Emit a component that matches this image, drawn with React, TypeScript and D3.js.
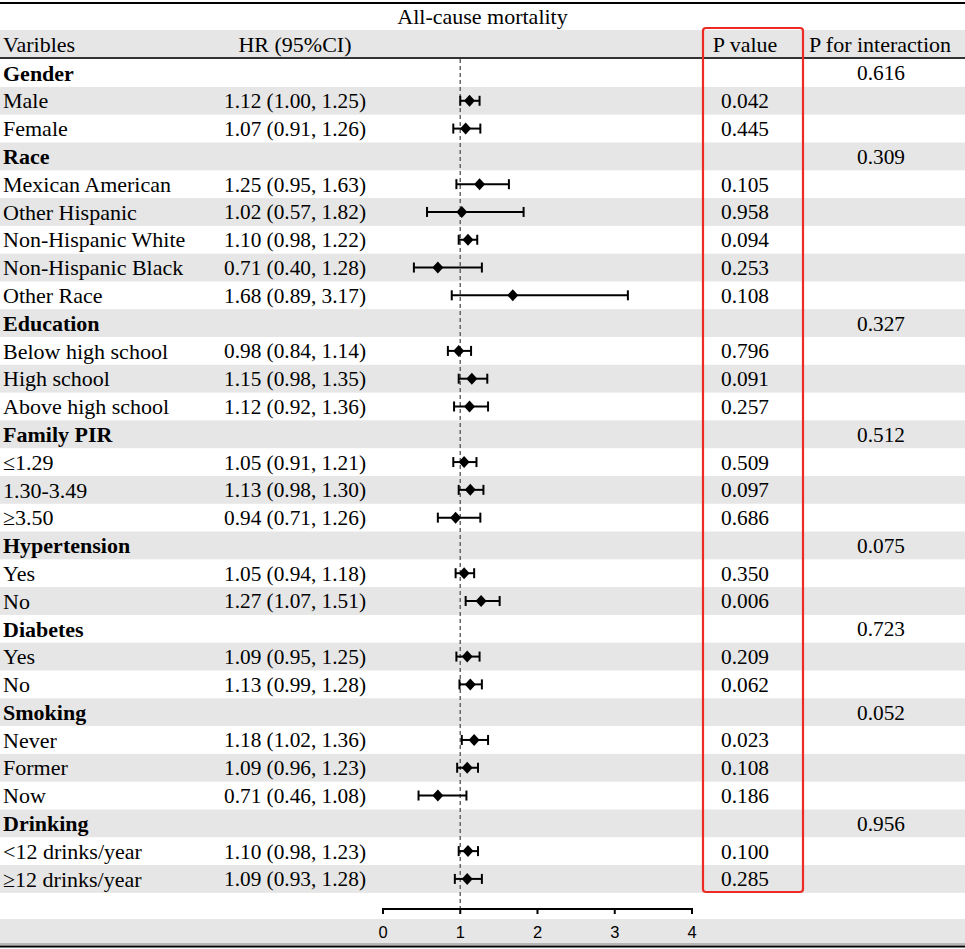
import React from "react";
import * as d3 from "d3";

const labels = [
  "Gender", "Male", "Female",
  "Race", "Mexican American", "Other Hispanic", "Non-Hispanic White", "Non-Hispanic Black", "Other Race",
  "Education", "Below high school", "High school", "Above high school",
  "Family PIR", "≤1.29", "1.30-3.49", "≥3.50",
  "Hypertension", "Yes", "No",
  "Diabetes", "Yes", "No",
  "Smoking", "Never", "Former", "Now",
  "Drinking", "<12 drinks/year", "≥12 drinks/year",
];
const isGroup = [
  true, false, false,
  true, false, false, false, false, false,
  true, false, false, false,
  true, false, false, false,
  true, false, false,
  true, false, false,
  true, false, false, false,
  true, false, false,
];
const hr: (number | null)[] = [
  null, 1.12, 1.07,
  null, 1.25, 1.02, 1.10, 0.71, 1.68,
  null, 0.98, 1.15, 1.12,
  null, 1.05, 1.13, 0.94,
  null, 1.05, 1.27,
  null, 1.09, 1.13,
  null, 1.18, 1.09, 0.71,
  null, 1.10, 1.09,
];
const lower: (number | null)[] = [
  null, 1.0, 0.91,
  null, 0.95, 0.57, 0.98, 0.40, 0.89,
  null, 0.84, 0.98, 0.92,
  null, 0.91, 0.98, 0.71,
  null, 0.94, 1.07,
  null, 0.95, 0.99,
  null, 1.02, 0.96, 0.46,
  null, 0.98, 0.93,
];
const upper: (number | null)[] = [
  null, 1.25, 1.26,
  null, 1.63, 1.82, 1.22, 1.28, 3.17,
  null, 1.14, 1.35, 1.36,
  null, 1.21, 1.30, 1.26,
  null, 1.18, 1.51,
  null, 1.25, 1.28,
  null, 1.36, 1.23, 1.08,
  null, 1.23, 1.28,
];
const pValues = [
  "", "0.042", "0.445",
  "", "0.105", "0.958", "0.094", "0.253", "0.108",
  "", "0.796", "0.091", "0.257",
  "", "0.509", "0.097", "0.686",
  "", "0.350", "0.006",
  "", "0.209", "0.062",
  "", "0.023", "0.108", "0.186",
  "", "0.100", "0.285",
];
const pInteraction = [
  "0.616", "", "",
  "0.309", "", "", "", "", "",
  "0.327", "", "", "",
  "0.512", "", "", "",
  "0.075", "", "",
  "0.723", "", "",
  "0.052", "", "", "",
  "0.956", "", "",
];
const xTicks = [0, 1, 2, 3, 4];

const W = 965;
const H = 949;
const serif = "'Liberation Serif', 'Times New Roman', serif";

export default function App() {
  const rowH = 27.79;
  const y = d3.scaleLinear().domain([0, labels.length - 1]).range([73, 73 + rowH * (labels.length - 1)]);
  const x = d3.scaleLinear().domain([0, 4]).range([383, 692]);
  const fs = 22;
  const fsNum = 21.3;
  const axisY = 909;
  const fmt = d3.format(".2f");

  return (
    <div>
      <style>{`body{margin:0}`}</style>
      <svg width={W} height={H} style={{ display: "block", background: "#fff" }}>
        <rect x={0} y={30} width={W} height={27} fill="#e6e6e6" />
        {labels.map((_, i) =>
          i % 2 === 1 ? (
            <rect key={"s" + i} x={0} y={y(i) - rowH / 2} width={W} height={rowH} fill="#e6e6e6" />
          ) : null
        )}
        <rect x={0} y={919} width={W} height={26} fill="#e6e6e6" />

        <line x1={0} x2={W} y1={3} y2={3} stroke="#000" strokeWidth={2} />
        <line x1={0} x2={W} y1={58} y2={58} stroke="#333" strokeWidth={2} />
        <line x1={0} x2={W} y1={946.5} y2={946.5} stroke="#000" strokeWidth={2} />
        <line x1={0} x2={W} y1={944} y2={944} stroke="#888" strokeWidth={1} />

        <text x={W / 2} y={16} dy="0.35em" textAnchor="middle" fontFamily={serif} fontSize={fs}>All-cause mortality</text>
        <text x={3} y={44} dy="0.35em" fontFamily={serif} fontSize={fs}>Varibles</text>
        <text x={295} y={44} dy="0.35em" textAnchor="middle" fontFamily={serif} fontSize={fs}>HR (95%CI)</text>
        <text x={745} y={44} dy="0.35em" textAnchor="middle" fontFamily={serif} fontSize={fs}>P value</text>
        <text x={880} y={44} dy="0.35em" textAnchor="middle" fontFamily={serif} fontSize={fs}>P for interaction</text>

        <line x1={x(1)} x2={x(1)} y1={59} y2={axisY} stroke="#666" strokeWidth={1.5} strokeDasharray="4,3" />

        {labels.map((lab, i) => {
          const cy = y(i);
          const h = hr[i];
          const lo = lower[i];
          const up = upper[i];
          return (
            <g key={"r" + i}>
              <text x={3} y={cy} dy="0.35em" fontFamily={serif} fontSize={fs} fontWeight={isGroup[i] ? "bold" : "normal"}>{lab}</text>
              {h !== null && lo !== null && up !== null ? (
                <>
                  <text x={295} y={cy} dy="0.35em" textAnchor="middle" fontFamily={serif} fontSize={fsNum}>
                    {`${fmt(h)} (${fmt(lo)}, ${fmt(up)})`}
                  </text>
                  <line x1={x(lo)} x2={x(up)} y1={cy} y2={cy} stroke="#000" strokeWidth={2} />
                  <line x1={x(lo)} x2={x(lo)} y1={cy - 5} y2={cy + 5} stroke="#000" strokeWidth={2} />
                  <line x1={x(up)} x2={x(up)} y1={cy - 5} y2={cy + 5} stroke="#000" strokeWidth={2} />
                  <path
                    d={`M${x(h)},${cy - 6} L${x(h) + 5.5},${cy} L${x(h)},${cy + 6} L${x(h) - 5.5},${cy} Z`}
                    fill="#000"
                  />
                </>
              ) : null}
              {pValues[i] ? (
                <text x={745} y={cy} dy="0.35em" textAnchor="middle" fontFamily={serif} fontSize={fsNum}>{pValues[i]}</text>
              ) : null}
              {pInteraction[i] ? (
                <text x={881} y={cy} dy="0.35em" textAnchor="middle" fontFamily={serif} fontSize={fsNum}>{pInteraction[i]}</text>
              ) : null}
            </g>
          );
        })}

        <rect x={703} y={28} width={100} height={864} rx={3} fill="none" stroke="#ee2a24" strokeWidth={2.2} />

        <line x1={x(0)} x2={x(4)} y1={axisY} y2={axisY} stroke="#000" strokeWidth={2} />
        {xTicks.map((t) => (
          <g key={"t" + t}>
            <line x1={x(t)} x2={x(t)} y1={axisY - 1} y2={axisY + 5} stroke="#000" strokeWidth={2} />
            <text x={x(t)} y={932} dy="0.35em" textAnchor="middle" fontFamily="'Liberation Sans', Arial, sans-serif" fontSize={16.5}>{t}</text>
          </g>
        ))}
      </svg>
    </div>
  );
}
